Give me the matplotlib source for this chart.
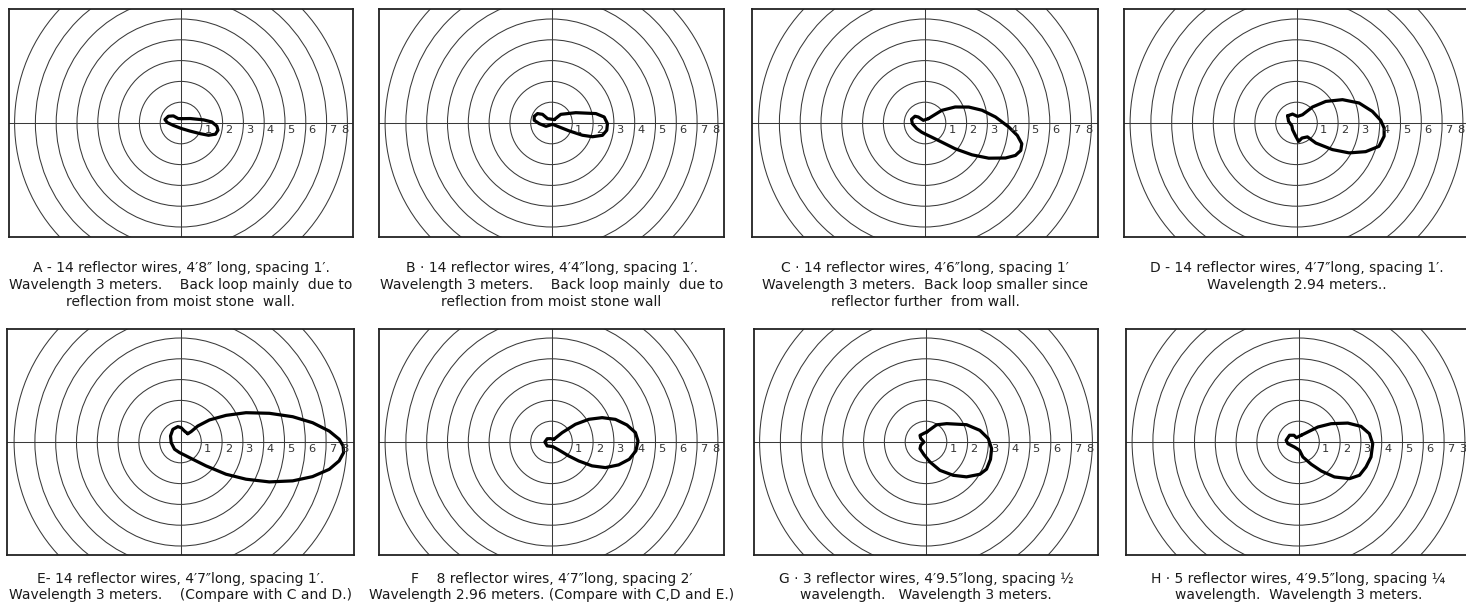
import numpy as np
import matplotlib
matplotlib.use('Agg')
import matplotlib.pyplot as plt
from matplotlib.patches import Circle

plt.rcParams['font.family'] = ['Liberation Sans Narrow', 'DejaVu Sans']

# polar diagrams: angle in degrees, field in ring units
a_ang = [82, 26, 8, 2, -5, -11, -18, -24, -29, -42, -84, -163, 178, 168, 152, 137, 122]
a_rad = [0.21, 0.49, 1.09, 1.48, 1.73, 1.81, 1.74, 1.45, 1.06, 0.58, 0.27, 0.39, 0.66, 0.79, 0.69, 0.50, 0.25]

b_ang = [51, 43, 23, 12, 6.5, -0.7, -7.5, -13.6, -18.5, -21.6, -24.1, -27.2, -50, -149, -177, 171, 159, 146, 136, 132]
b_rad = [0.21, 0.61, 1.27, 2.18, 2.55, 2.69, 2.68, 2.52, 2.08, 1.60, 0.93, 0.42, 0.08, 0.31, 0.59, 0.84, 0.89, 0.81, 0.60, 0.28]

c_ang = [53, 37, 28, 20, 12.6, 4.9, -2.7, -7.7, -12.1, -16, -19.7, -23.5, -28.9, -34.1, -40.5, -48.6,
         -64.8, -82, -110, -146, -177, 164.5, 146, 138, 122]
c_rad = [0.26, 1.01, 1.64, 2.24, 2.81, 3.40, 4.03, 4.48, 4.76, 4.79, 4.62, 4.22, 3.50, 2.73, 1.91, 1.23,
         0.75, 0.57, 0.47, 0.48, 0.61, 0.67, 0.58, 0.43, 0.15]

d_ang = [141, 168, -149, -121, -93, -83.5, -70, -51.7, -46, -36.5, -29.6, -22.5, -15.8, -8.6, -3.3, 1.8,
         8.7, 17.7, 26.9, 36.4, 45, 54, 81, 114]
d_rad = [0.55, 0.39, 0.26, 0.37, 0.64, 0.89, 0.77, 0.85, 1.34, 2.15, 2.91, 3.60, 4.12, 4.26, 4.22, 4.05,
         3.69, 3.16, 2.48, 1.75, 1.09, 0.49, 0.32, 0.47]

e_ang = [48.8, 44.4, 42.8, 37.3, 30.3, 24.1, 17.9, 12.7, 8.3, 4.2, 1.0, -1.4, -3.7, -6.8, -10.4, -14.7,
         -19.1, -24.2, -29.6, -35.3, -43.1, -54.6, -68, -95.6, -129.6, -176.2, 148.9, 121.2, 100, 87.5, 70.3]
e_rad = [0.53, 0.71, 1.13, 1.75, 2.54, 3.45, 4.49, 5.53, 6.42, 7.17, 7.63, 7.82, 7.86, 7.68, 7.27, 6.56,
         5.71, 4.68, 3.62, 2.68, 1.68, 1.02, 0.72, 0.51, 0.45, 0.45, 0.56, 0.71, 0.75, 0.69, 0.56]

f_ang = [49, 41.3, 36.5, 31.3, 25.7, 19.5, 12.7, 6.4, 0.7, -6, -12.5, -18.8, -25.4, -30.5, -34.8, -38.9,
         -47.4, -74, -138, 180, 143, 107]
f_rad = [0.17, 0.68, 1.43, 2.10, 2.70, 3.26, 3.72, 4.06, 4.16, 4.08, 3.83, 3.41, 2.87, 2.26, 1.60, 1.07,
         0.52, 0.23, 0.28, 0.32, 0.26, 0.17]

g_ang = [86, 58.4, 41.6, 23.1, 12.2, 3.1, -5.8, -15, -24.2, -30.9, -40.7, -50.7, -63.8, -78.8, -99, -132,
         -148, 180, 144, 132, 103]
g_rad = [0.48, 0.97, 1.33, 2.12, 2.65, 3.00, 3.17, 3.21, 3.19, 3.02, 2.57, 2.07, 1.52, 0.98, 0.62, 0.43,
         0.30, 0.10, 0.32, 0.43, 0.43]

h_ang = [68, 47, 37.7, 29.3, 21, 14, 6.7, -1.3, -11.7, -20.3, -28.6, -35.7, -44.2, -51.9, -60.3, -73.7,
         -83, -128, -171, 172, 143, 124, 116]
h_rad = [0.35, 0.66, 1.18, 1.80, 2.54, 3.10, 3.43, 3.57, 3.56, 3.46, 3.34, 3.02, 2.41, 1.77, 1.23, 0.75,
         0.40, 0.31, 0.52, 0.60, 0.54, 0.39, 0.23]

ring_labels = ['1', '2', '3', '4', '5', '6', '7', '8']
ring_labels_h = ['1', '2', '3', '4', '5', '6', '7', '3']

captions = {
    'A': ["A - 14 reflector wires, 4\u20328\u2033 long, spacing 1\u2032.",
          "Wavelength 3 meters.    Back loop mainly  due to",
          "reflection from moist stone  wall."],
    'B': ["B \u00b7 14 reflector wires, 4\u20324\u2033long, spacing 1\u2032.",
          "Wavelength 3 meters.    Back loop mainly  due to",
          "reflection from moist stone wall"],
    'C': ["C \u00b7 14 reflector wires, 4\u20326\u2033long, spacing 1\u2032",
          "Wavelength 3 meters.  Back loop smaller since",
          "reflector further  from wall."],
    'D': ["D - 14 reflector wires, 4\u20327\u2033long, spacing 1\u2032.",
          "Wavelength 2.94 meters.."],
    'E': ["E- 14 reflector wires, 4\u20327\u2033long, spacing 1\u2032.",
          "Wavelength 3 meters.    (Compare with C and D.)"],
    'F': ["F    8 reflector wires, 4\u20327\u2033long, spacing 2\u2032",
          "Wavelength 2.96 meters. (Compare with C,D and E.)"],
    'G': ["G \u00b7 3 reflector wires, 4\u20329.5\u2033long, spacing \u00bd",
          "wavelength.   Wavelength 3 meters."],
    'H': ["H \u00b7 5 reflector wires, 4\u20329.5\u2033long, spacing \u00bc",
          "wavelength.  Wavelength 3 meters."],
}

patterns = {'A': (a_ang, a_rad), 'B': (b_ang, b_rad), 'C': (c_ang, c_rad), 'D': (d_ang, d_rad),
            'E': (e_ang, e_rad), 'F': (f_ang, f_rad), 'G': (g_ang, g_rad), 'H': (h_ang, h_rad)}

# layout in pixels: left, top, width, height of each frame
W, H = 1466, 606
PX = 20.8
frames = {'A': (9, 9, 344, 228), 'B': (379, 9, 345, 228), 'C': (752, 9, 346, 228), 'D': (1124, 9, 345, 228),
          'E': (7, 329, 347, 226), 'F': (379, 329, 345, 226), 'G': (754, 329, 344, 226), 'H': (1126, 329, 345, 226)}
row_lines = {9: [268, 285, 302], 329: [579, 595]}

fig = plt.figure(figsize=(W / 100, H / 100), dpi=100)

for key, (l, t, w, h) in frames.items():
    ax = fig.add_axes([l / W, 1 - (t + h) / H, w / W, h / H])
    hx, hy = w / 2 / PX, h / 2 / PX
    ax.set_xlim(-hx, hx)
    ax.set_ylim(-hy, hy)
    ax.set_xticks([])
    ax.set_yticks([])
    for s in ax.spines.values():
        s.set_linewidth(1.3)
        s.set_color('#222222')
    for r in range(1, 9):
        ax.add_patch(Circle((0, 0), r, fill=False, lw=0.75, ec='#3a3a3a'))
    ax.axhline(0, color='#3a3a3a', lw=0.75)
    ax.axvline(0, color='#3a3a3a', lw=0.75)
    labs = ring_labels_h if key == 'H' else ring_labels
    for k, lab in enumerate(labs, start=1):
        xx = k + 0.3 if k < 8 else 7.9
        ax.text(xx, -0.35, lab, fontsize=8.2, color='#333333', ha='center', va='center')
    ang, rad = patterns[key]
    th = np.deg2rad(np.array(ang + ang[:1], dtype=float))
    rr = np.array(rad + rad[:1])
    ax.plot(rr * np.cos(th), rr * np.sin(th), color='black', lw=2.3,
            solid_joinstyle='round', solid_capstyle='round')

    cx = l + w / 2
    for line, yy in zip(captions[key], row_lines[t]):
        fig.text(cx / W, 1 - yy / H, line, fontsize=10, color='#1a1a1a', ha='center', va='center')

fig.savefig('out.png', dpi=100, facecolor='white')
